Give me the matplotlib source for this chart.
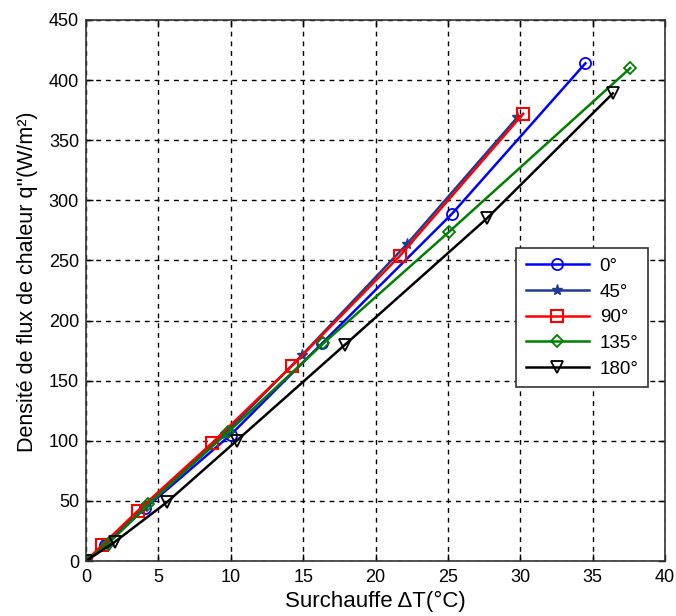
import matplotlib
matplotlib.use("Agg")
import matplotlib.pyplot as plt

plt.rcParams['font.family'] = ['Liberation Sans', 'DejaVu Sans']

x_0 = [0, 1.3, 4.1, 10.0, 16.3, 25.3, 34.5]
y_0 = [0, 13, 44, 105, 181, 289, 414]
x_45 = [0, 1.4, 4.0, 9.6, 14.9, 22.2, 29.8]
y_45 = [0, 14, 45, 106, 171, 264, 369]
x_90 = [0, 1.1, 3.6, 8.7, 14.2, 21.7, 30.2]
y_90 = [0, 13, 42, 98, 162, 254, 372]
x_135 = [0, 1.5, 4.3, 9.8, 16.4, 25.1, 37.6]
y_135 = [0, 14, 47, 107, 181, 274, 410]
x_180 = [0, 2.0, 5.6, 10.4, 17.9, 27.7, 36.4]
y_180 = [0, 16, 49, 100, 180, 285, 389]
labels = ['0°', '45°', '90°', '135°', '180°']
xticks = [0, 5, 10, 15, 20, 25, 30, 35, 40]
yticks = [0, 50, 100, 150, 200, 250, 300, 350, 400, 450]

fig = plt.figure(figsize=(6.76, 6.16), dpi=100)
ax = fig.add_axes([86/676, 1 - 561/616, 579/676, 541/616])

ms = 8
lw = 1.8
ax.plot(x_0, y_0, color='#0000ff', marker='o', mfc='none', mec='#0000ff', ms=ms, lw=lw, mew=1.3, label=labels[0])
ax.plot(x_45, y_45, color='#1f3a93', marker='*', mfc='#1f3a93', mec='#1f3a93', ms=ms, lw=lw, mew=1.0, label=labels[1])
ax.plot(x_90, y_90, color='#ff0000', marker='s', mfc='none', mec='#ff0000', ms=ms + 1, lw=lw, mew=1.5, label=labels[2])
ax.plot(x_135, y_135, color='#008000', marker='D', mfc='none', mec='#008000', ms=ms - 1.5, lw=lw, mew=1.3, label=labels[3])
ax.plot(x_180, y_180, color='#000000', marker='v', mfc='none', mec='#000000', ms=ms + 1, lw=lw, mew=1.3, label=labels[4])

ax.set_xlim(0, 40)
ax.set_ylim(0, 450)
ax.set_xticks(xticks)
ax.set_yticks(yticks)
ax.tick_params(direction='in', top=True, right=True, labelsize=13, length=5, width=1)
ax.tick_params(axis='x', pad=6)
ax.tick_params(axis='y', pad=5)
ax.grid(True, color='black', linestyle=(0, (3.5, 3.5)), linewidth=1)
for s in ax.spines.values():
    s.set_linewidth(1.2)
    s.set_color('#333333')

ax.set_xlabel('Surchauffe ΔT(°C)', fontsize=16, labelpad=3)
ax.set_ylabel("Densité de flux de chaleur q''(W/m²)", fontsize=15.5)
ax.yaxis.set_label_coords(-0.083, 0.517)

leg = ax.legend(loc='upper left', bbox_to_anchor=(0.743, 0.578), fontsize=13.5,
                handlelength=3.4, frameon=True, fancybox=False, edgecolor='#333333',
                framealpha=1, borderpad=0.5, labelspacing=0.46, handletextpad=0.55,
                borderaxespad=0)
leg.get_frame().set_linewidth(1.2)

fig.savefig('out.png', dpi=100)
